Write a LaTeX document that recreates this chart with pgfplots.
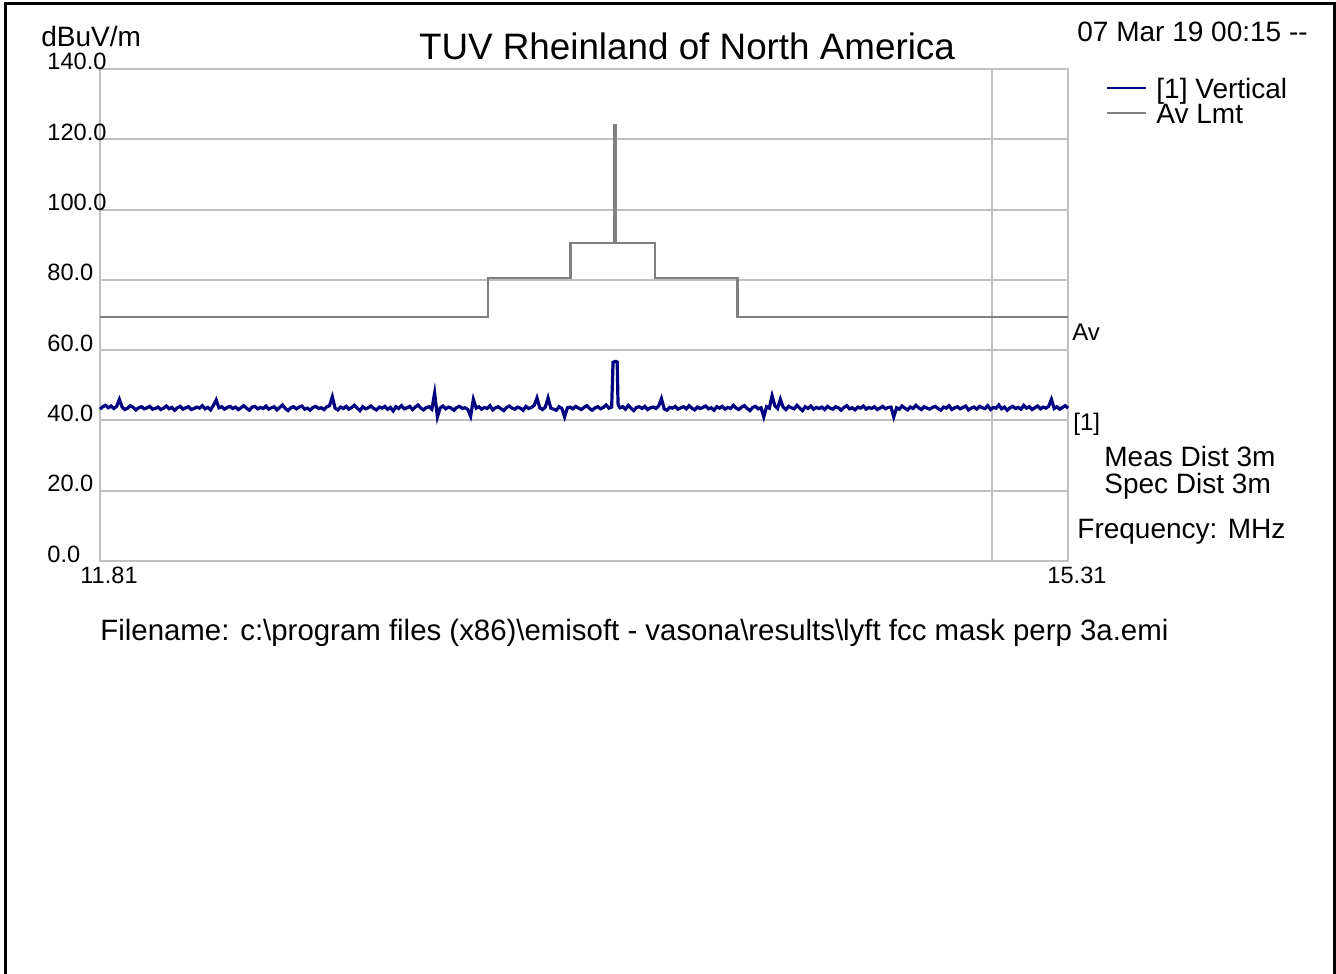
\documentclass[border=0pt]{standalone}
\usepackage{fontspec}
\setmainfont{Liberation Sans}
\usepackage{pgfplots}
\pgfplotsset{compat=1.18}
\definecolor{gridgray}{HTML}{C0C0C0}
\definecolor{limgray}{HTML}{808080}
\definecolor{tracecol}{HTML}{000080}
\begin{document}
\begin{tikzpicture}
\begin{scope}[x=0.5pt,y=-0.5pt]
\useasboundingbox (0,0) rectangle (1336,973);
\draw[line width=1.6pt] (5.7,980) -- (5.7,3.3) -- (1334.4,3.3) -- (1334.4,980);
\node[anchor=base west, inner sep=0pt, font=\fontsize{14}{16}\selectfont] at (41,47) {dBuV/m};
\node[anchor=base, inner sep=0pt, font=\fontsize{18.4}{21}\selectfont] at (687,60) {TUV Rheinland of North America};
\node[anchor=base west, inner sep=0pt, font=\fontsize{14}{16}\selectfont] at (1077,42) {07 Mar 19 00:15 -{}-};
\node[anchor=base west, inner sep=0pt, font=\fontsize{12}{14}\selectfont] at (1072,340) {Av};
\node[anchor=base west, inner sep=0pt, font=\fontsize{12}{14}\selectfont] at (1073,430) {[1]};
\node[anchor=base west, inner sep=0pt, font=\fontsize{14}{16}\selectfont] at (1104,466) {Meas Dist 3m};
\node[anchor=base west, inner sep=0pt, font=\fontsize{14}{16}\selectfont] at (1104,493) {Spec Dist 3m};
\node[anchor=base west, inner sep=0pt, font=\fontsize{14}{16}\selectfont] at (1077,538) {Frequency: MHz};
\node[anchor=base west, inner sep=0pt, font=\fontsize{14.7}{16}\selectfont] at (100,640) {Filename: c:\textbackslash program files (x86)\textbackslash emisoft - vasona\textbackslash results\textbackslash lyft fcc mask perp 3a.emi};
\end{scope}
\begin{axis}[
  at={(50pt,-280.5pt)}, anchor=south west,
  width=484pt, height=246pt, scale only axis,
  xmin=11.81, xmax=15.31, ymin=0, ymax=140,
  axis line style={draw=gridgray, line width=1pt},
  ytick={0,20,40,60,80,100,120,140},
  yticklabels={0.0,20.0,40.0,60.0,80.0,100.0,120.0,140.0},
  xtick={11.81,15.035,15.31},
  xticklabels={11.81,,15.31},
  major tick length=0pt,
  tick style={draw=none},
  xmajorgrids, ymajorgrids,
  grid style={draw=gridgray, line width=1pt},
  yticklabel style={anchor=base west, inner sep=0pt, xshift=-26.5pt, yshift=-0.5pt, font=\fontsize{11.8}{12}\selectfont},
  xticklabel style={anchor=north, inner sep=0pt, xshift=4.5pt, yshift=-3pt, font=\fontsize{11.8}{12}\selectfont},
  legend style={at={(1.0393,0.9898)}, anchor=north west, draw=none, fill=none, inner sep=0pt,
    font=\fontsize{14}{14}\selectfont, row sep=-2.5pt, cells={anchor=base west, inner sep=0pt},
    /tikz/every odd column/.append style={column sep=2.5pt}},
  legend image code/.code={\draw[#1, line width=1pt] (0pt,0.55em) -- (19.5pt,0.55em);},
  clip=false,
]
\addplot[tracecol, line width=1.6pt, line join=miter] coordinates {
(11.81,43.2)(11.82,43.9)(11.83,44.3)(11.84,43.6)(11.85,44.1)(11.86,43.4)(11.87,44.0)(11.88,46.0)(11.89,43.8)(11.90,43.1)
(11.91,43.5)(11.92,44.2)(11.93,43.7)(11.94,43.0)(11.95,43.6)(11.96,43.9)(11.97,43.3)(11.98,43.6)(11.99,44.0)(12.00,43.2)
(12.01,43.4)(12.02,43.8)(12.03,43.1)(12.04,43.5)(12.05,44.1)(12.06,43.3)(12.07,43.7)(12.08,42.9)(12.09,43.6)(12.10,44.0)
(12.11,43.2)(12.12,43.6)(12.13,43.9)(12.14,43.1)(12.15,43.4)(12.16,43.8)(12.17,43.5)(12.18,44.2)(12.19,43.3)(12.20,43.7)
(12.21,43.0)(12.22,44.3)(12.23,45.8)(12.24,43.6)(12.25,43.9)(12.26,43.2)(12.27,43.7)(12.28,44.0)(12.29,43.4)(12.30,43.8)
(12.31,43.1)(12.32,43.6)(12.33,44.2)(12.34,43.5)(12.35,42.9)(12.36,43.8)(12.37,44.0)(12.38,43.3)(12.39,43.7)(12.40,43.4)
(12.41,44.1)(12.42,43.2)(12.43,43.6)(12.44,43.9)(12.45,43.0)(12.46,43.7)(12.47,44.4)(12.48,43.4)(12.49,42.8)(12.50,43.6)
(12.51,43.9)(12.52,43.3)(12.53,43.8)(12.54,44.1)(12.55,43.2)(12.56,43.5)(12.57,42.9)(12.58,43.7)(12.59,44.0)(12.60,43.4)
(12.61,43.6)(12.62,43.1)(12.63,43.9)(12.64,44.2)(12.65,46.7)(12.66,43.5)(12.67,43.0)(12.68,43.8)(12.69,43.4)(12.70,44.0)
(12.71,43.2)(12.72,43.7)(12.73,44.3)(12.74,43.5)(12.75,42.8)(12.76,43.9)(12.77,43.3)(12.78,43.6)(12.79,44.1)(12.80,43.4)
(12.81,43.0)(12.82,43.8)(12.83,43.5)(12.84,44.0)(12.85,43.2)(12.86,43.7)(12.87,42.7)(12.88,43.9)(12.89,43.4)(12.90,44.2)
(12.91,43.3)(12.92,43.6)(12.93,44.0)(12.94,43.1)(12.95,43.8)(12.96,44.4)(12.97,43.5)(12.98,43.0)(12.99,43.7)(13.00,43.9)
(13.01,43.2)(13.02,47.8)(13.03,41.0)(13.04,43.6)(13.05,44.1)(13.06,43.3)(13.07,43.8)(13.08,43.5)(13.09,42.9)(13.10,43.7)
(13.11,44.0)(13.12,43.4)(13.13,43.6)(13.14,43.1)(13.15,41.2)(13.16,46.0)(13.17,43.5)(13.18,43.9)(13.19,43.2)(13.20,43.7)
(13.21,43.4)(13.22,44.2)(13.23,43.0)(13.24,43.6)(13.25,43.9)(13.26,43.3)(13.27,42.8)(13.28,43.7)(13.29,44.1)(13.30,43.5)
(13.31,43.2)(13.32,43.8)(13.33,43.5)(13.34,42.9)(13.35,44.0)(13.36,43.4)(13.37,43.7)(13.38,44.3)(13.39,46.4)(13.40,43.6)
(13.41,43.1)(13.42,43.8)(13.43,46.4)(13.44,43.5)(13.45,43.2)(13.46,42.9)(13.47,43.9)(13.48,43.4)(13.49,41.0)(13.50,43.6)
(13.51,43.8)(13.52,43.3)(13.53,44.0)(13.54,43.5)(13.55,43.1)(13.56,43.7)(13.57,44.2)(13.58,43.4)(13.59,42.9)(13.60,43.6)
(13.61,43.9)(13.62,43.3)(13.63,43.7)(13.64,44.4)(13.65,43.5)(13.66,43.8)(13.665,56.5)(13.67,56.7)(13.675,56.8)(13.68,56.6)(13.683,44.8)(13.685,44.2)
(13.69,43.6)(13.70,43.9)
(13.71,43.2)(13.72,44.3)(13.73,43.5)(13.74,42.8)(13.75,43.7)(13.76,43.9)(13.77,43.4)(13.78,44.0)(13.79,43.1)(13.80,43.6)
(13.81,43.8)(13.82,43.4)(13.83,44.1)(13.84,46.2)(13.85,43.3)(13.86,42.9)(13.87,43.7)(13.88,43.5)(13.89,44.0)(13.90,43.2)
(13.91,43.6)(13.92,43.9)(13.93,43.3)(13.94,44.2)(13.95,43.5)(13.96,43.0)(13.97,43.8)(13.98,43.4)(13.99,43.7)(14.00,44.1)
(14.01,43.3)(14.02,43.6)(14.03,42.9)(14.04,43.9)(14.05,43.5)(14.06,44.0)(14.07,43.2)(14.08,43.7)(14.09,43.4)(14.10,44.3)
(14.11,43.5)(14.12,43.1)(14.13,43.8)(14.14,44.2)(14.15,43.4)(14.16,42.8)(14.17,43.7)(14.18,44.0)(14.19,43.3)(14.20,43.6)
(14.21,41.0)(14.22,43.9)(14.23,43.5)(14.24,47.0)(14.25,44.2)(14.26,43.4)(14.27,46.0)(14.28,43.8)(14.29,43.1)(14.30,44.0)
(14.31,43.6)(14.32,43.3)(14.33,44.3)(14.34,43.5)(14.35,42.8)(14.36,43.9)(14.37,43.4)(14.38,44.1)(14.39,43.2)(14.40,43.7)
(14.41,43.4)(14.42,43.8)(14.43,43.1)(14.44,44.0)(14.45,43.5)(14.46,43.2)(14.47,43.9)(14.48,43.6)(14.49,42.9)(14.50,43.7)
(14.51,44.2)(14.52,43.3)(14.53,43.6)(14.54,43.0)(14.55,43.8)(14.56,43.5)(14.57,44.1)(14.58,43.2)(14.59,43.7)(14.60,43.4)
(14.61,43.9)(14.62,43.1)(14.63,43.5)(14.64,44.0)(14.65,43.3)(14.66,43.7)(14.67,43.8)(14.68,41.0)(14.69,43.6)(14.70,43.2)
(14.71,44.1)(14.72,43.5)(14.73,43.0)(14.74,43.8)(14.75,43.4)(14.76,44.3)(14.77,43.6)(14.78,43.1)(14.79,43.9)(14.80,43.5)
(14.81,43.2)(14.82,43.7)(14.83,44.0)(14.84,43.4)(14.85,42.9)(14.86,43.8)(14.87,43.5)(14.88,44.2)(14.89,43.1)(14.90,43.6)
(14.91,43.9)(14.92,43.3)(14.93,43.7)(14.94,44.1)(14.95,43.0)(14.96,43.5)(14.97,43.8)(14.98,43.2)(14.99,44.0)(15.00,43.6)
(15.01,43.4)(15.02,44.2)(15.03,43.1)(15.04,43.7)(15.05,43.5)(15.06,44.4)(15.07,43.3)(15.08,43.8)(15.09,42.9)(15.10,43.6)
(15.11,44.0)(15.12,43.4)(15.13,43.7)(15.14,43.2)(15.15,44.3)(15.16,43.5)(15.17,43.9)(15.18,43.1)(15.19,43.6)(15.20,44.1)
(15.21,43.3)(15.22,43.8)(15.23,43.5)(15.24,44.0)(15.25,46.0)(15.26,43.4)(15.27,43.9)(15.28,43.2)(15.29,43.7)(15.30,44.2)(15.31,43.5)
};
\addlegendentry{[1] Vertical}
\addplot[limgray, line width=1.1pt] coordinates {
(11.81,69.5)(13.2125,69.5)(13.2125,80.5)(13.511,80.5)(13.511,90.5)(13.668,90.5)(13.668,124)(13.677,124)(13.677,90.5)(13.816,90.5)(13.816,80.5)(14.115,80.5)(14.115,69.5)(15.31,69.5)
};
\addlegendentry{Av Lmt}
\end{axis}
\end{tikzpicture}
\end{document}
